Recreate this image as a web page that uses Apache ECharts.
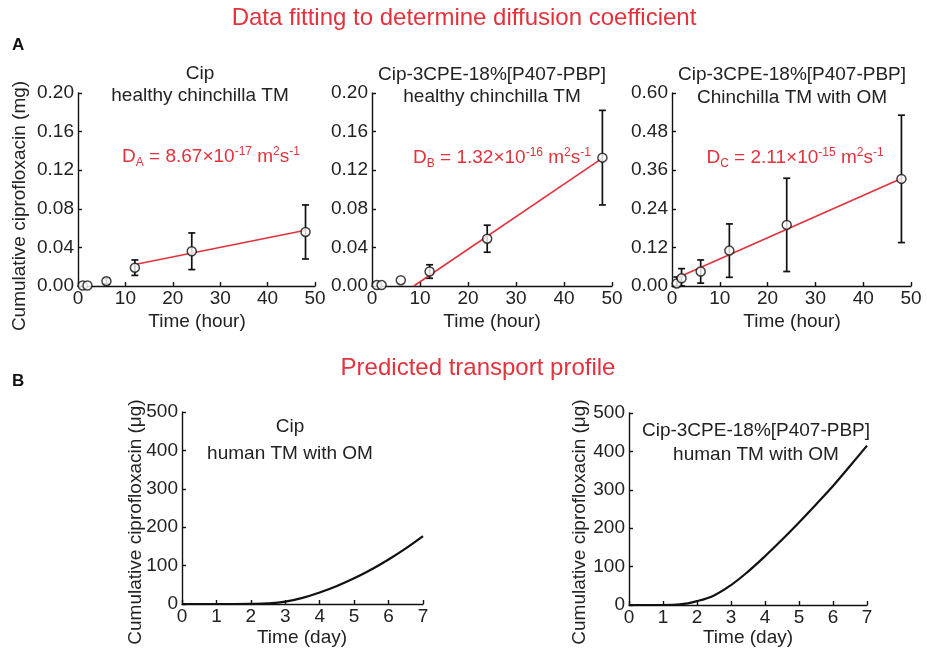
<!DOCTYPE html>
<html>
<head>
<meta charset="utf-8">
<script src="https://cdn.jsdelivr.net/npm/echarts@6/dist/echarts.min.js"></script>
<style>html,body{margin:0;padding:0;background:#fff}#c{width:927px;height:651px}</style>
</head>
<body>
<div id="c"></div>
<script>
// ---------- Data ----------
const timeA = [1, 2, 6, 12, 24, 48];           // hours
const meanA1 = [0.0005, 0.0005, 0.005, 0.019, 0.036, 0.056];
const errA1  = [0, 0, 0.003, 0.008, 0.019, 0.028];
const fitA1 = [[12, 0.0222], [48, 0.0578]];

const meanA2 = [0.001, 0.001, 0.006, 0.015, 0.049, 0.133];
const errA2  = [0, 0, 0, 0.007, 0.014, 0.049];
const fitA2 = [[8.7, 0], [48, 0.1325]];

const meanA3 = [0.008, 0.024, 0.045, 0.110, 0.190, 0.333];
const errA3  = [0.02, 0.03, 0.036, 0.083, 0.145, 0.198];
const fitA3 = [[1, 0.025], [48, 0.334]];

const dayB = [0, 0.5, 1, 1.5, 2, 2.5, 3, 3.5, 4, 4.5, 5, 5.5, 6, 6.5, 7];
const cumB1 = [0, 0, 0, 0, 0.3, 1.5, 6, 16, 30, 47, 67, 90, 116, 145, 177];
const cumB2 = [0, 0, 0, 1.5, 10, 25, 52, 87, 127, 170, 215, 262, 310, 362, 415];

const yTicksA12 = [0, 0.04, 0.08, 0.12, 0.16, 0.20];
const yTicksA3 = [0, 0.12, 0.24, 0.36, 0.48, 0.60];
const xTicksA = [0, 10, 20, 30, 40, 50];
const yTicksB = [0, 100, 200, 300, 400, 500];
const xTicksB = [0, 1, 2, 3, 4, 5, 6, 7];

// ---------- Styling ----------
const FONT = 'Liberation Sans, Arial, sans-serif';
const RED = '#e2323c';
const FS = 19;

function zip(xs, ys) { return xs.map((x, i) => [x, ys[i]]); }
function zip3(xs, ys, es) { return xs.map((x, i) => [x, ys[i], es[i]]); }

const grids = [
  {left: 78, top: 93, width: 237, height: 193},
  {left: 372, top: 93, width: 240, height: 193},
  {left: 672, top: 93, width: 239, height: 193},
  {left: 182, top: 412, width: 241, height: 192},
  {left: 629, top: 413, width: 238, height: 192}
];

function xAxis(gi, ticks, dec) {
  return {
    type: 'value', gridIndex: gi, min: ticks[0], max: ticks[ticks.length - 1],
    interval: ticks[1] - ticks[0],
    axisLine: {show: true, onZero: false, lineStyle: {color: '#111', width: 1.4}},
    axisTick: {show: true, inside: true, length: 4, lineStyle: {color: '#111', width: 1.4}},
    splitLine: {show: false},
    axisLabel: {color: '#222', fontSize: FS, fontFamily: FONT, margin: 3,
      showMinLabel: true, showMaxLabel: true,
      formatter: v => v.toFixed(dec)}
  };
}
function yAxis(gi, ticks, dec) {
  return {
    type: 'value', gridIndex: gi, min: ticks[0], max: ticks[ticks.length - 1],
    interval: +(ticks[1] - ticks[0]).toFixed(6),
    axisLine: {show: true, onZero: false, lineStyle: {color: '#111', width: 1.4}},
    axisTick: {show: true, inside: true, length: 4, lineStyle: {color: '#111', width: 1.4}},
    splitLine: {show: false},
    axisLabel: {color: '#222', fontSize: FS, fontFamily: FONT, margin: 4,
      showMinLabel: true, showMaxLabel: true,
      formatter: v => v.toFixed(dec)}
  };
}

function errSeries(gi, data) {
  return {
    type: 'custom', xAxisIndex: gi, yAxisIndex: gi, z: 3,
    data: data,
    renderItem: function (params, api) {
      const x = api.value(0), y = api.value(1), e = api.value(2);
      if (!e) return null;
      const lo = Math.max(y - e, 0);
      const p1 = api.coord([x, y + e]);
      const p2 = api.coord([x, lo]);
      const hw = 3.5;
      const st = {stroke: '#111', lineWidth: 1.7};
      return {type: 'group', children: [
        {type: 'line', shape: {x1: p1[0], y1: p1[1], x2: p2[0], y2: p2[1]}, style: st},
        {type: 'line', shape: {x1: p1[0] - hw, y1: p1[1], x2: p1[0] + hw, y2: p1[1]}, style: st},
        {type: 'line', shape: {x1: p2[0] - hw, y1: p2[1], x2: p2[0] + hw, y2: p2[1]}, style: st}
      ]};
    }
  };
}
function pointSeries(gi, data) {
  return {
    type: 'scatter', xAxisIndex: gi, yAxisIndex: gi, z: 5, data: data,
    symbol: 'circle', symbolSize: 9,
    itemStyle: {color: '#fff', borderColor: '#111', borderWidth: 1.5}
  };
}
function fitSeries(gi, data) {
  return {
    type: 'line', xAxisIndex: gi, yAxisIndex: gi, z: 4, data: data,
    symbol: 'none', lineStyle: {color: RED, width: 1.6}
  };
}
function curveSeries(gi, data) {
  return {
    type: 'line', xAxisIndex: gi, yAxisIndex: gi, z: 4, data: data,
    symbol: 'none', smooth: 0.4, lineStyle: {color: '#111', width: 2.2}
  };
}

function txt(x, y, s, opts, rot) {
  return {type: 'text', x: x, y: y, rotation: rot || 0, silent: true, style: Object.assign({
    text: s, fill: '#222', font: FS + 'px ' + FONT, textAlign: 'center', textVerticalAlign: 'middle'
  }, opts || {})};
}
function dText(x, y, letter, mant, expo) {
  return {type: 'text', x: x, y: y, silent: true, style: {
    text: '{n|D}{s|' + letter + '}{n| = ' + mant + '×10}{p|' + expo + '}{n| m}{p|2}{n|s}{p|-1}',
    textAlign: 'center', textVerticalAlign: 'middle',
    rich: {
      n: {fontSize: FS, fontFamily: FONT, fill: RED, lineHeight: 28, verticalAlign: 'middle'},
      s: {fontSize: 12, fontFamily: FONT, fill: RED, lineHeight: 28, verticalAlign: 'bottom', padding: [0, 0, 2, 0]},
      p: {fontSize: 12, fontFamily: FONT, fill: RED, lineHeight: 28, verticalAlign: 'top', padding: [3, 0, 0, 0]}
    }
  }};
}

const option = {
  backgroundColor: '#fff',
  animation: false,
  grid: grids,
  xAxis: [xAxis(0, xTicksA, 0), xAxis(1, xTicksA, 0), xAxis(2, xTicksA, 0), xAxis(3, xTicksB, 0), xAxis(4, xTicksB, 0)],
  yAxis: [yAxis(0, yTicksA12, 2), yAxis(1, yTicksA12, 2), yAxis(2, yTicksA3, 2), yAxis(3, yTicksB, 0), yAxis(4, yTicksB, 0)],
  series: [
    fitSeries(0, fitA1), errSeries(0, zip3(timeA, meanA1, errA1)), pointSeries(0, zip(timeA, meanA1)),
    fitSeries(1, fitA2), errSeries(1, zip3(timeA, meanA2, errA2)), pointSeries(1, zip(timeA, meanA2)),
    fitSeries(2, fitA3), errSeries(2, zip3(timeA, meanA3, errA3)), pointSeries(2, zip(timeA, meanA3)),
    curveSeries(3, zip(dayB, cumB1)),
    curveSeries(4, zip(dayB, cumB2))
  ],
  graphic: [
    txt(464, 18, 'Data fitting to determine diffusion coefficient', {fill: RED, font: '24px ' + FONT}),
    txt(12, 45, 'A', {fill: '#111', font: 'bold 17px ' + FONT, textAlign: 'left'}),
    txt(478, 368, 'Predicted transport profile', {fill: RED, font: '24px ' + FONT}),
    txt(12, 381, 'B', {fill: '#111', font: 'bold 17px ' + FONT, textAlign: 'left'}),

    txt(200, 74, 'Cip'), txt(200, 96, 'healthy chinchilla TM'),
    txt(492, 75, 'Cip-3CPE-18%[P407-PBP]'), txt(492, 97, 'healthy chinchilla TM'),
    txt(792, 75, 'Cip-3CPE-18%[P407-PBP]'), txt(792, 98, 'Chinchilla TM with OM'),
    txt(290, 427, 'Cip'), txt(290, 454, 'human TM with OM'),
    txt(756, 431, 'Cip-3CPE-18%[P407-PBP]'), txt(756, 455, 'human TM with OM'),

    dText(211, 157, 'A', '8.67', '-17'),
    dText(502, 158, 'B', '1.32', '-16'),
    dText(795, 158, 'C', '2.11', '-15'),

    txt(197, 322, 'Time (hour)'), txt(492, 322, 'Time (hour)'), txt(792, 322, 'Time (hour)'),
    txt(302, 638, 'Time (day)'), txt(748, 638, 'Time (day)'),

    txt(20, 206, 'Cumulative ciprofloxacin (mg)', null, Math.PI / 2),
    txt(136, 522, 'Cumulative ciprofloxacin (μg)', null, Math.PI / 2),
    txt(580, 522, 'Cumulative ciprofloxacin (μg)', null, Math.PI / 2)
  ]
};

const chart = echarts.init(document.getElementById('c'), null, {renderer: 'canvas'});
chart.setOption(option);
</script>
</body>
</html>
